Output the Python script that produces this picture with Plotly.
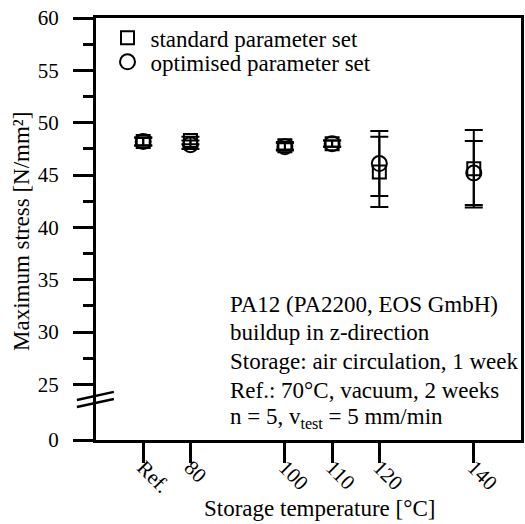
import plotly.graph_objects as go

# Data
x_positions = [70, 80, 100, 110, 120, 140]
x_labels = ["Ref.", "80", "100", "110", "120", "140"]
standard_vals = [48.2, 48.3, 47.8, 48.0, 45.3, 45.6]
standard_err = [0.4, 0.35, 0.35, 0.3, 3.35, 3.7]
optimised_vals = [48.2, 47.9, 47.7, 48.0, 46.1, 45.2]
optimised_err = [0.35, 0.4, 0.35, 0.3, 3.1, 3.05]
y_tickvals = [19.7, 25, 30, 35, 40, 45, 50, 55, 60]
y_ticktext = ["0", "25", "30", "35", "40", "45", "50", "55", "60"]
y_minor = [27.5, 32.5, 37.5, 42.5, 47.5, 52.5, 57.5]
info_lines = [
    "PA12 (PA2200, EOS GmbH)",
    "buildup in z-direction",
    "Storage: air circulation, 1 week",
    "Ref.: 70°C, vacuum, 2 weeks",
    "n = 5, v<sub>test</sub> = 5 mm/min",
]

FONT = "Liberation Serif"
FS = 23
TFS = 21

fig = go.Figure()
fig.add_trace(go.Scatter(
    x=x_positions, y=standard_vals, mode="markers", name="standard parameter set",
    legend="legend",
    marker=dict(symbol="square-open", size=13, color="black", line=dict(width=2, color="black")),
    error_y=dict(type="data", array=standard_err, visible=True, color="black", thickness=2, width=9),
))
fig.add_trace(go.Scatter(
    x=x_positions, y=optimised_vals, mode="markers", name="optimised parameter set",
    legend="legend2",
    marker=dict(symbol="circle-open", size=15, color="black", line=dict(width=2, color="black")),
    error_y=dict(type="data", array=optimised_err, visible=True, color="black", thickness=2, width=9),
))

leg_common = dict(xanchor="left", yanchor="middle", bgcolor="rgba(0,0,0,0)", itemwidth=36,
                  font=dict(family=FONT, size=FS, color="black"))

fig.update_layout(
    width=525, height=524,
    margin=dict(l=96, r=4, t=18, b=84),
    paper_bgcolor="white", plot_bgcolor="white",
    font=dict(family=FONT, size=FS, color="black"),
    showlegend=True,
    hovermode=False,
    legend=dict(x=0.02, y=0.953, **leg_common),
    legend2=dict(x=0.02, y=0.896, **leg_common),
    xaxis=dict(range=[60, 150], tickmode="array", tickvals=x_positions, ticktext=x_labels,
               tickangle=45, ticks="outside", ticklen=20, tickwidth=3, tickcolor="black",
               showline=True, linewidth=3, linecolor="black", mirror=True, automargin=False,
               ticklabelstandoff=-16, ticklabeloverflow="allow",
               showgrid=False, zeroline=False, tickfont=dict(family=FONT, size=TFS, color="black")),
    yaxis=dict(range=[19.7, 60], tickmode="array", tickvals=y_tickvals, ticktext=y_ticktext,
               ticks="outside", ticklen=20, tickwidth=3, tickcolor="black",
               minor=dict(tickvals=y_minor, ticks="outside", ticklen=10, tickwidth=3, tickcolor="black"),
               showline=True, linewidth=3, linecolor="black", mirror=True, automargin=False,
               showgrid=False, zeroline=False, ticklabelstandoff=10, ticklabeloverflow="allow",
               tickfont=dict(family=FONT, size=TFS, color="black")),
)

# axis titles via annotations
fig.add_annotation(text="Storage temperature [°C]", xref="paper", yref="paper",
                   x=0.527, y=-0.162, xanchor="center", yanchor="middle", showarrow=False,
                   font=dict(family=FONT, size=FS, color="black"))
fig.add_annotation(text="Maximum stress [N/mm²]", xref="paper", yref="paper",
                   x=-0.174, y=0.493, xanchor="center", yanchor="middle", showarrow=False,
                   textangle=-90, font=dict(family=FONT, size=FS, color="black"))

info_y = [0.32, 0.254, 0.185, 0.118, 0.052]
for txt, yy in zip(info_lines, info_y):
    fig.add_annotation(text=txt, xref="paper", yref="paper", x=0.31, y=yy,
                       xanchor="left", yanchor="middle", showarrow=False,
                       font=dict(family=FONT, size=FS, color="black"))

# axis break marks
fig.add_shape(type="line", xref="paper", yref="paper", x0=-0.045, y0=0.095, x1=0.042, y1=0.114,
              line=dict(color="black", width=2.5))
fig.add_shape(type="line", xref="paper", yref="paper", x0=-0.045, y0=0.078, x1=0.042, y1=0.097,
              line=dict(color="black", width=2.5))

fig.write_html("out.html", config={"displayModeBar": False},
               post_script="document.body.style.margin='0';")
